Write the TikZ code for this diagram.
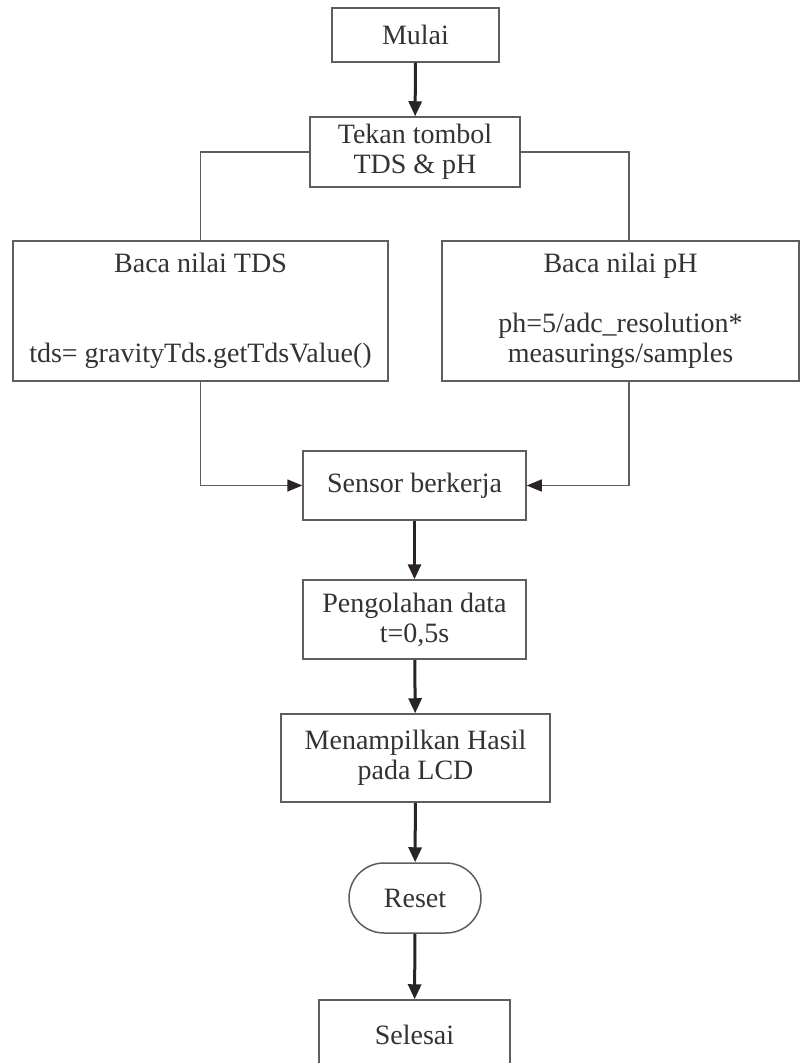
\documentclass[tikz,border=0pt]{standalone}
\usepackage{fontspec}
\setmainfont{Liberation Serif}
\usetikzlibrary{arrows.meta, shapes.misc}
\definecolor{fline}{HTML}{5E5E5E}
\definecolor{farrow}{HTML}{2B2424}
\definecolor{ftext}{HTML}{333333}
\tikzset{
  proc/.style={
    draw=fline, fill=white, line width=0.75pt, align=center, inner sep=0pt,
    text=ftext, font=\fontsize{14pt}{15pt}\selectfont
  },
  term/.style={proc, rounded rectangle},
  flowline/.style={line width=1.5pt, draw=farrow, -{Triangle[length=7.5pt,width=6.5pt]}},
  link/.style={line width=0.75pt, draw=fline},
  linkarr/.style={link, -{Triangle[length=7.5pt,width=6pt,color=farrow]}}
}
\begin{document}
\begin{tikzpicture}[x=0.5pt, y=-0.5pt]
  \path[use as bounding box, fill=white] (0,0) rectangle (803,1063);
  \node[proc, minimum width=83.5pt, minimum height=27pt] (mulai) at (415.5,35) {Mulai};
  \node[proc, minimum width=105pt, minimum height=35pt] (tekan) at (415,152) {Tekan tombol\\TDS \& pH};
  \node[proc, minimum width=187.5pt, minimum height=70pt] (tds) at (200.5,311) {Baca nilai TDS\\[30pt]tds= gravityTds.getTdsValue()};
  \node[proc, minimum width=178.5pt, minimum height=70pt] (ph) at (620.5,311) {Baca nilai pH\\[15pt]ph=5/adc\_resolution*\\measurings/samples};
  \node[proc, minimum width=111.5pt, minimum height=34.5pt] (sensor) at (414.5,485.5) {Sensor berkerja};
  \node[proc, minimum width=111.5pt, minimum height=39.5pt] (olah) at (414.5,619.5) {Pengolahan data\\t=0,5s};
  \node[proc, minimum width=134.5pt, minimum height=44pt] (tampil) at (415.5,758) {Menampilkan Hasil\\pada LCD};
  \node[term, minimum width=66pt, minimum height=35pt] (reset) at (415,898) {Reset};
  \node[proc, minimum width=95.5pt, minimum height=35pt] (selesai) at (414.5,1035) {Selesai};
  \draw[flowline] (mulai) -- (tekan);
  \draw[link] (tekan.west) -| (tds.north);
  \draw[link] (tekan.east) -| ([xshift=4.25pt]ph.north);
  \draw[linkarr] (tds.south) |- (sensor.west);
  \draw[linkarr] ([xshift=4.25pt]ph.south) |- (sensor.east);
  \draw[flowline] (sensor) -- (olah);
  \draw[flowline] (olah) -- (tampil);
  \draw[flowline] (tampil) -- (reset);
  \draw[flowline] (reset) -- (selesai);
\end{tikzpicture}
\end{document}
